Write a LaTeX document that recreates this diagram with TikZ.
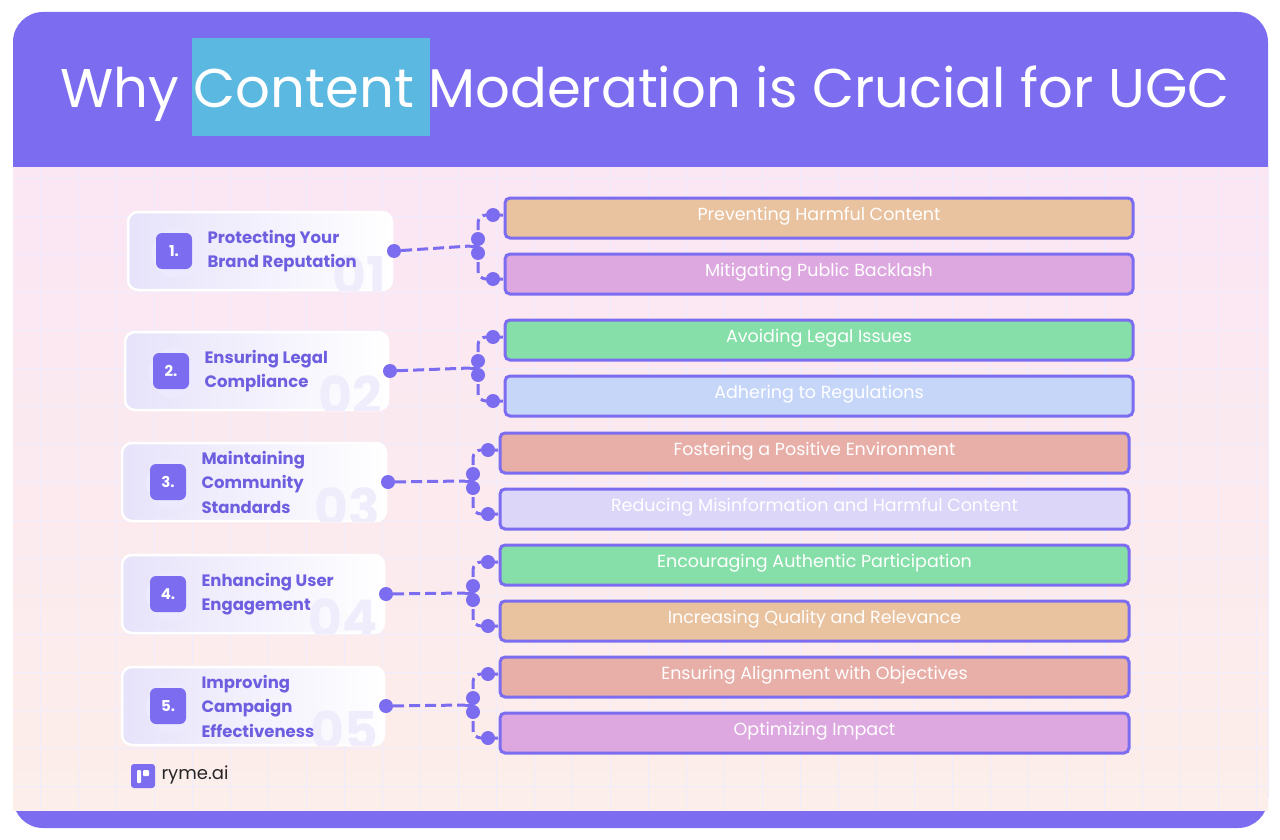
\documentclass[tikz,border=0pt]{standalone}
\usepackage{fontspec}
\setmainfont{Poppins}
\usetikzlibrary{calc}
\definecolor{pur}{HTML}{7B6CF0}
\definecolor{txtp}{HTML}{6E5FE0}
\definecolor{hl}{HTML}{5BB8E0}
\definecolor{cOr}{HTML}{E9C29F}
\definecolor{cPk}{HTML}{DDA8E0}
\definecolor{cGr}{HTML}{86DFA8}
\definecolor{cBl}{HTML}{C6D6F8}
\definecolor{cSa}{HTML}{E8AFA8}
\definecolor{cLv}{HTML}{DCD6F8}
\definecolor{bgtop}{HTML}{FBE6F4}
\definecolor{bgbot}{HTML}{FCEEEA}
\begin{document}
\begin{tikzpicture}[x=1pt,y=-1pt,
  card/.style={rounded corners=10pt,draw=white,line width=2.5pt,left color=cLv!70,right color=white},
  badge/.style={fill=pur,rounded corners=6pt,minimum size=36pt,text=white,font=\bfseries\fontsize{15}{15}\selectfont,inner sep=0pt},
  ctext/.style={text=txtp,font=\bfseries\fontsize{16.5}{24.5}\selectfont,align=left,anchor=west},
  bignum/.style={text=cLv!45,font=\bfseries\fontsize{52}{52}\selectfont,anchor=north east,inner sep=0pt},
  item/.style={draw=pur,line width=3pt,rounded corners=5pt},
  itext/.style={text=white,font=\fontsize{17.5}{18}\selectfont},
  conn/.style={pur,line width=3pt,dash pattern=on 11pt off 5pt},
  dot/.style={circle,fill=pur,inner sep=0pt,minimum size=14pt}]
\useasboundingbox (0,0) rectangle (1280,840);
\fill[white] (0,0) rectangle (1280,840);
\fill[pur,rounded corners=30pt] (13,12) rectangle (1268,828);
\shade[top color=bgtop,bottom color=bgbot] (13,168) rectangle (1268,810);
\begin{scope}
\clip (13,168) rectangle (1268,810);
\foreach \x in {40,78,...,1268} \draw[pur!12,line width=0.8pt] (\x,168) -- (\x,810);
\foreach \y in {178,216,...,810} \draw[pur!12,line width=0.8pt] (13,\y) -- (1268,\y);
\end{scope}
% title
\fill[hl] (192,38) rectangle (430,136);
\node[text=white,font=\fontsize{54.5}{54}\selectfont\mdseries,anchor=base] (title) at (645,108) {Why Content Moderation is Crucial for UGC};
% cards
\foreach \n/\xl/\xr/\yt/\yb/\txt in {
 1/128/392/212/290/{Protecting Your\\Brand Reputation},
 2/125/388/332/410/{Ensuring Legal\\Compliance},
 3/122/386/443/521/{Maintaining\\Community\\Standards},
 4/122/384/555/633/{Enhancing User\\Engagement},
 5/122/384/667/745/{Improving\\Campaign\\Effectiveness}}{
 \path[card] (\xl,\yt) rectangle (\xr,\yb);
 \begin{scope}
 \clip[rounded corners=10pt] (\xl,\yt) rectangle (\xr,\yb);
 \node[bignum] (bn\n) at (\xr-6,\yt+44) {0\n};
 \end{scope}
 \fill[pur!14] ($(\xl+49,\yt/2+\yb/2+2)$) circle (25pt);
 \node[badge] (b\n) at ($(\xl+46,\yt/2+\yb/2)$) {\n.};
 \node[ctext] (t\n) at ($(\xl+76,\yt/2+\yb/2)$) {\txt};
 \node[dot] (d\n) at ($(\xr+2,\yt/2+\yb/2)$) {};
}
% items
\foreach \g/\xl/\xr/\ya/\yb/\ca/\cb/\ta/\tb in {
 1/505/1133/198/254/cOr/cPk/{Preventing Harmful Content}/{Mitigating Public Backlash},
 2/505/1133/320/376/cGr/cBl/{Avoiding Legal Issues}/{Adhering to Regulations},
 3/500/1129/433/489/cSa/cLv/{Fostering a Positive Environment}/{Reducing Misinformation and Harmful Content},
 4/500/1129/545/601/cGr/cOr/{Encouraging Authentic Participation}/{Increasing Quality and Relevance},
 5/500/1129/657/713/cSa/cPk/{Ensuring Alignment with Objectives}/{Optimizing Impact}}{
 \path[item,fill=\ca] (\xl,\ya) rectangle (\xr,\ya+40);
 \path[item,fill=\cb] (\xl,\yb) rectangle (\xr,\yb+40);
 \node[itext] (ia\g) at (\xl/2+\xr/2,\ya+18) {\ta};
 \node[itext] (ib\g) at (\xl/2+\xr/2,\yb+18) {\tb};
 \coordinate (j\g) at (\xl-27,\ya/2+\yb/2+20);
 \draw[conn] (d\g) -- ($(j\g)+(-8,0)$);
 \draw[pur,line width=3pt,rounded corners=8pt] ($(j\g)+(-8,0)$) -- (j\g);
 \draw[conn,rounded corners=8pt] (j\g) -- (\xl-27,\ya+17) -- (\xl-2,\ya+17);
 \draw[conn,rounded corners=8pt] (j\g) -- (\xl-27,\yb+25) -- (\xl-2,\yb+25);
 \node[dot] at ($(j\g)+(0,-7)$) {};
 \node[dot] at ($(j\g)+(0,7)$) {};
 \node[dot] at (\xl-12,\ya+17) {};
 \node[dot] at (\xl-12,\yb+25) {};
}
% logo
\fill[pur,rounded corners=3pt] (131,764) rectangle (155,788);
\fill[white,rounded corners=1pt] (137,770) rectangle (141,783);
\fill[white,rounded corners=1pt] (143,770) rectangle (149,776);
\node[anchor=west,font=\fontsize{18}{18}\selectfont,text=black!85] (logo) at (158,775) {ryme.ai};
\end{tikzpicture}
\end{document}
